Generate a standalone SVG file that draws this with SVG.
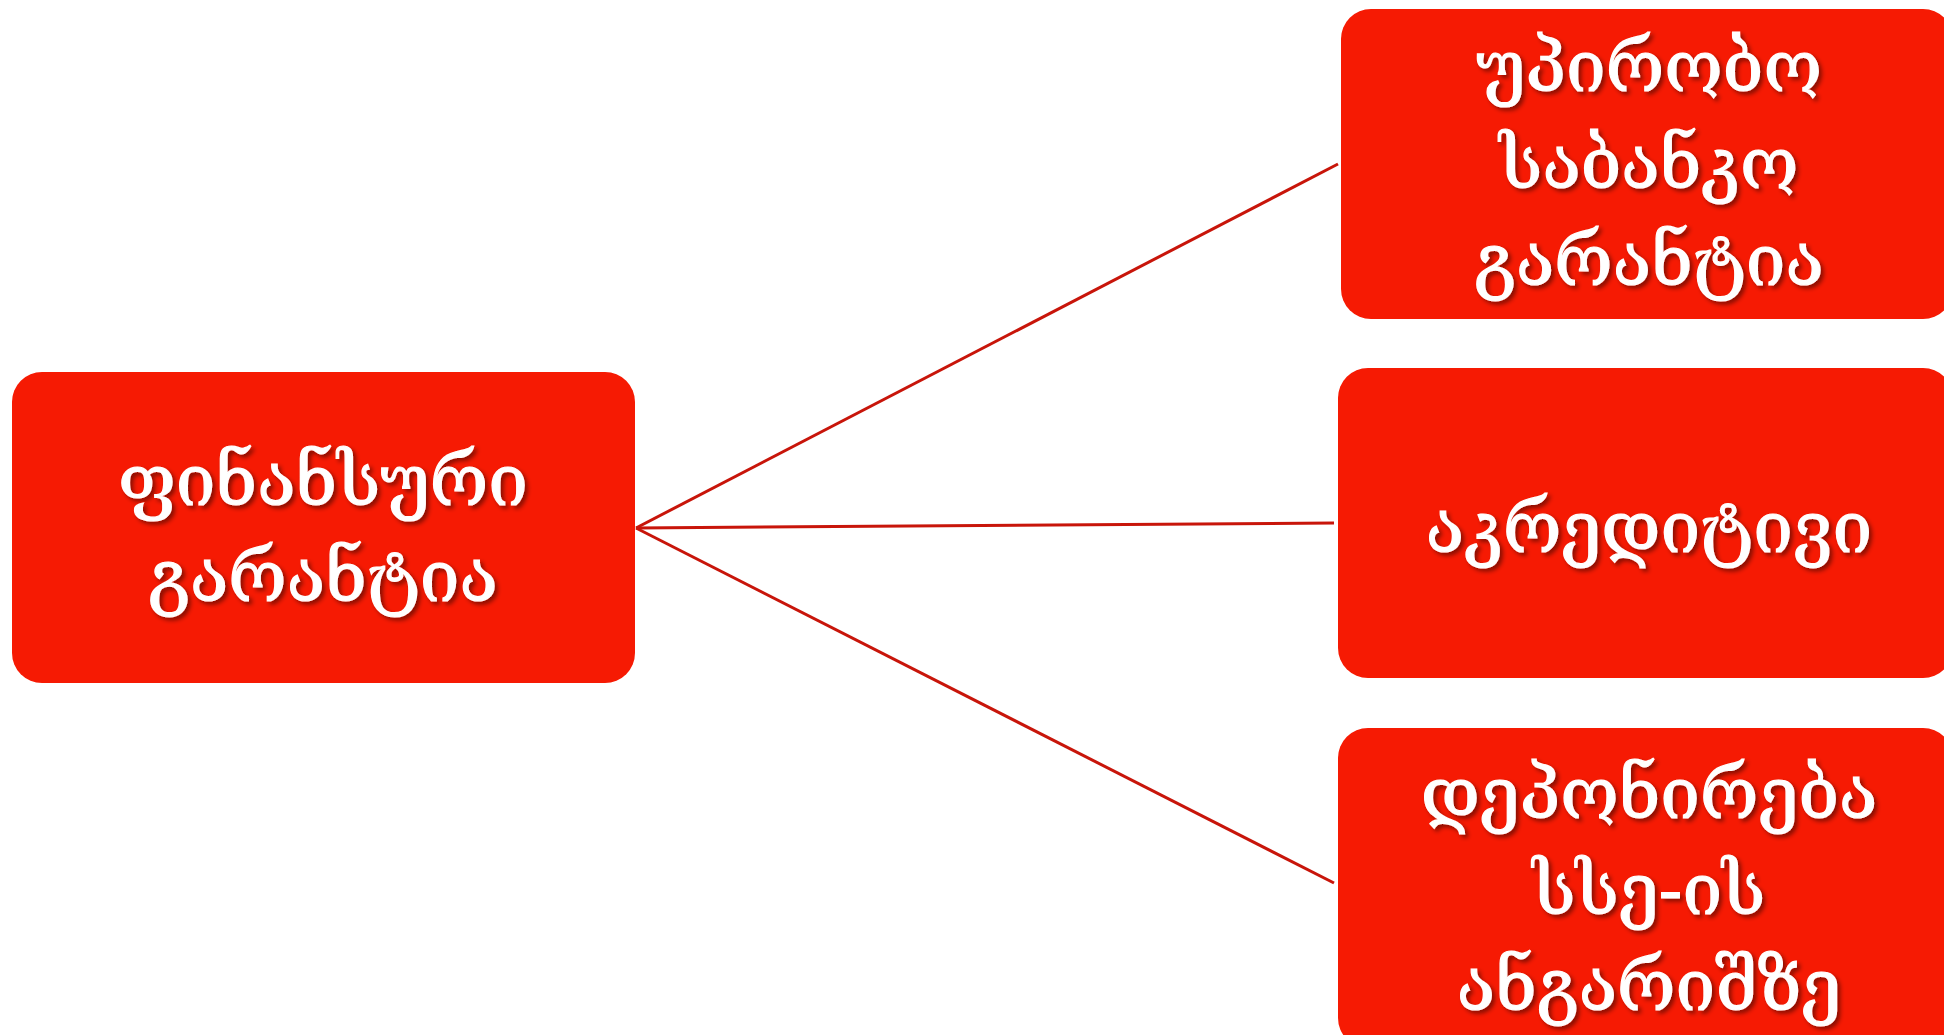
<svg xmlns="http://www.w3.org/2000/svg" width="1944" height="1035" viewBox="0 0 1944 1035">
<defs>
<filter id="sh" x="-10%" y="-10%" width="120%" height="130%">
<feDropShadow dx="3" dy="3" stdDeviation="2" flood-color="#000" flood-opacity="0.45"/>
</filter>
</defs>
<style>
.box{fill:#F61A03;}
.t{font-family:"DejaVu Serif","DejaVu Sans",serif;font-size:71px;fill:#fff;stroke:#fff;stroke-width:1.2;text-anchor:middle;filter:url(#sh);}
.c{stroke:#C8150A;stroke-width:3;fill:none;}
</style>
<rect width="1944" height="1035" fill="#fff"/>
<g id="connectors">
<line class="c" x1="636" y1="528" x2="1338" y2="164"/>
<line class="c" x1="636" y1="528" x2="1334" y2="523"/>
<line class="c" x1="636" y1="528" x2="1334" y2="883"/>
</g>
<g id="node-main">
<rect class="box" x="12" y="372" width="623" height="311" rx="30"/>
<text class="t" x="323" y="505">ფინანსური</text>
<text class="t" x="323" y="601">გარანტია</text>
</g>
<g id="node-top">
<rect class="box" x="1341" y="9" width="612" height="310" rx="30"/>
<text class="t" x="1649" y="91">უპირობო</text>
<text class="t" x="1649" y="188">საბანკო</text>
<text class="t" x="1649" y="285">გარანტია</text>
</g>
<g id="node-middle">
<rect class="box" x="1338" y="368" width="615" height="310" rx="30"/>
<text class="t" x="1649" y="552">აკრედიტივი</text>
</g>
<g id="node-bottom">
<rect class="box" x="1338" y="728" width="615" height="320" rx="30"/>
<text class="t" x="1649" y="818">დეპონირება</text>
<text class="t" x="1649" y="914">სსე-ის</text>
<text class="t" x="1649" y="1010">ანგარიშზე</text>
</g>
</svg>
